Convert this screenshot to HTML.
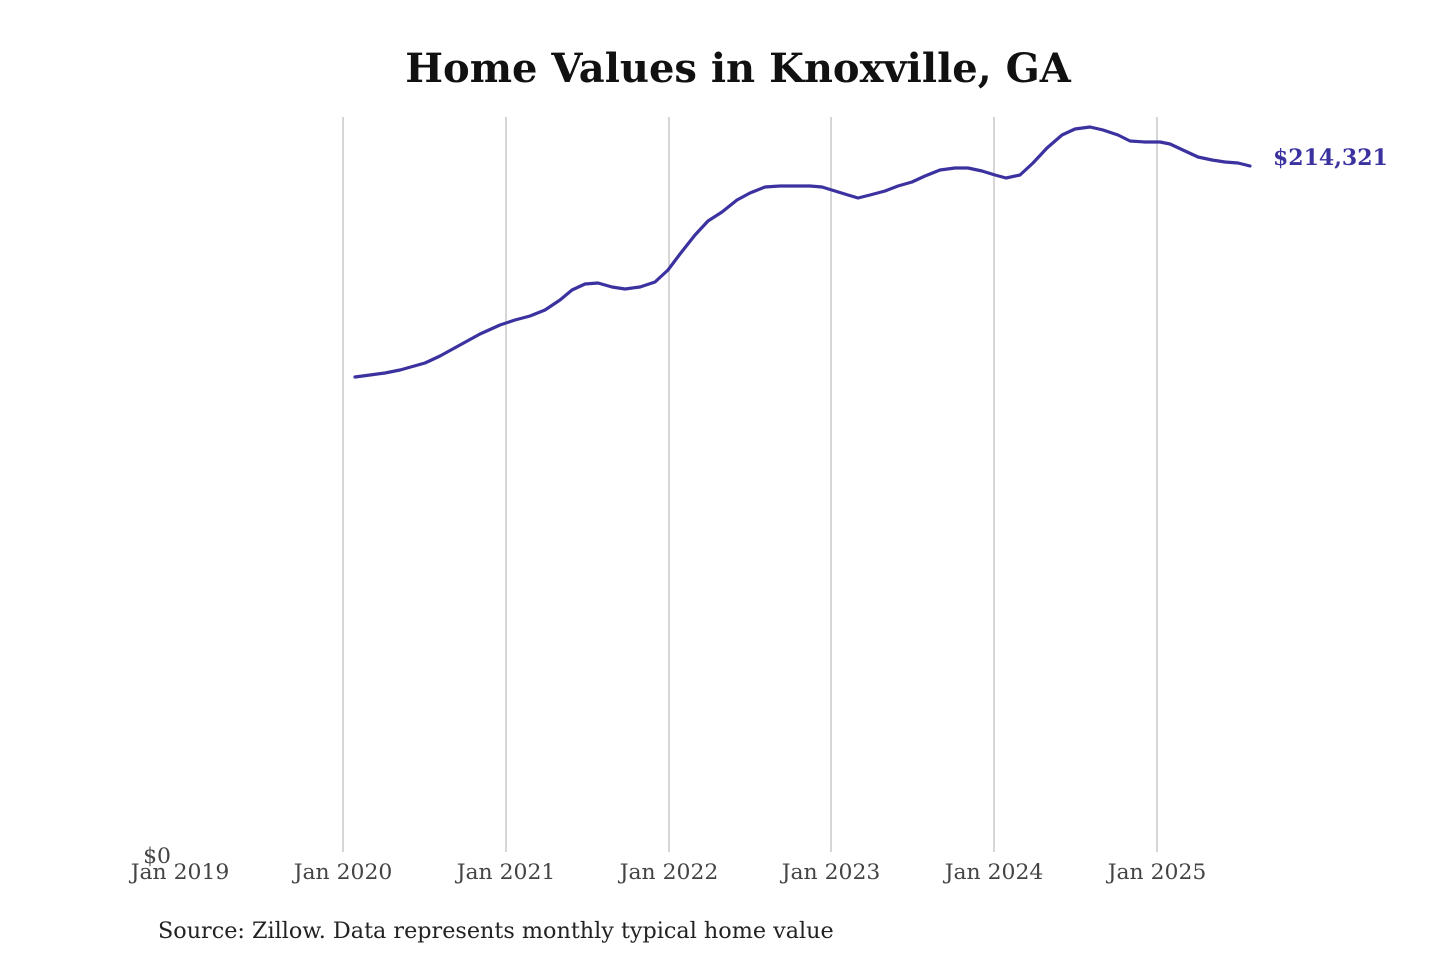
<!DOCTYPE html>
<html><head><meta charset="utf-8"><style>
html,body{margin:0;padding:0;background:#fff;width:1440px;height:960px;overflow:hidden}
</style></head><body>
<svg width="1440" height="960" xmlns="http://www.w3.org/2000/svg" font-family="'DejaVu Serif','Liberation Serif',serif">
<text x="738" y="82" text-anchor="middle" font-size="40" font-weight="bold" fill="#111">Home Values in Knoxville, GA</text>
<g stroke="#c0c0c0" stroke-width="1.3">
<line x1="343" y1="117" x2="343" y2="852"/>
<line x1="506" y1="117" x2="506" y2="852"/>
<line x1="669" y1="117" x2="669" y2="852"/>
<line x1="831" y1="117" x2="831" y2="852"/>
<line x1="994" y1="117" x2="994" y2="852"/>
<line x1="1157" y1="117" x2="1157" y2="852"/>
</g>
<g font-size="21.9" fill="#444" text-anchor="middle">
<text x="157" y="863" >$0</text>
<text x="180" y="879">Jan 2019</text>
<text x="343" y="879">Jan 2020</text>
<text x="506" y="879">Jan 2021</text>
<text x="669" y="879">Jan 2022</text>
<text x="831" y="879">Jan 2023</text>
<text x="994" y="879">Jan 2024</text>
<text x="1157" y="879">Jan 2025</text>
</g>
<polyline fill="none" stroke="#3b32a0" stroke-width="3.2" stroke-linejoin="round" stroke-linecap="round" points="355,377 370,375 385,373 400,370 425,363 440,356 460,345 480,334 500,325 515,320 530,316 545,310 560,300 572,290 585,284 598,283 612,287 625,289 640,287 655,282 668,270 680,254 695,235 708,221 722,212 737,200 750,193 765,187 780,186 795,186 810,186 822,187 835,191 848,195 858,198 870,195 885,191 898,186 912,182 925,176 940,170 955,168 968,168 982,171 995,175 1006,178 1020,175 1033,163 1047,148 1062,135 1075,129 1090,127 1103,130 1118,135 1130,141 1145,142 1160,142 1170,144 1185,151 1198,157 1212,160 1225,162 1238,163 1250,166"/>
<text x="1273" y="165" font-size="22" font-weight="bold" fill="#3b32a0">$214,321</text>
<text x="158" y="938" font-size="22.3" fill="#222">Source: Zillow. Data represents monthly typical home value</text>
</svg>
</body></html>
